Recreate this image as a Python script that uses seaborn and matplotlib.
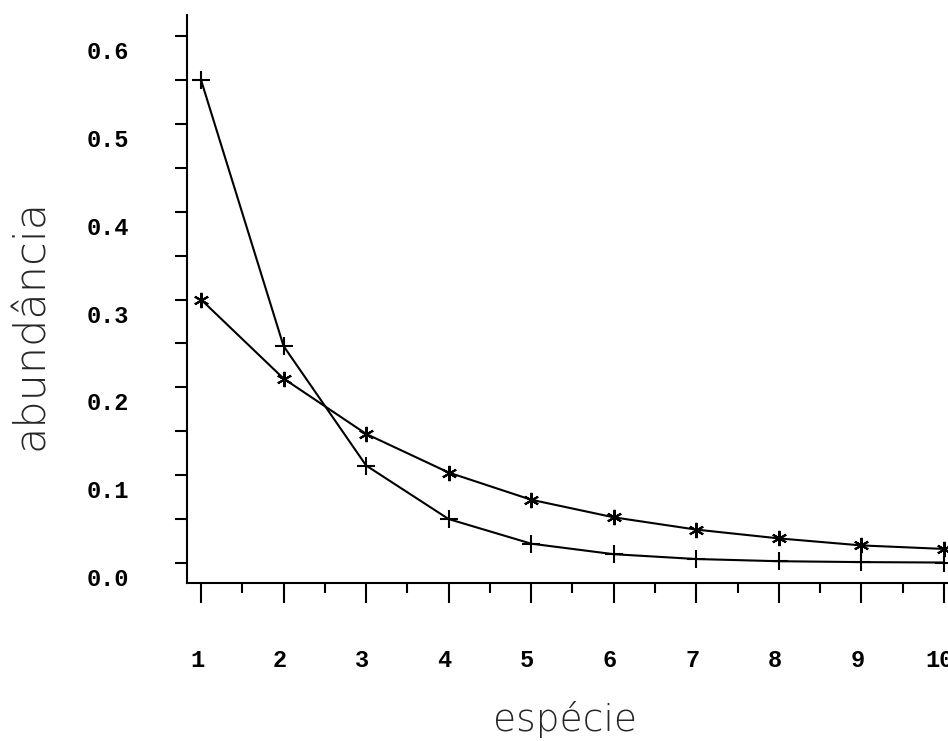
import matplotlib
matplotlib.use("Agg")
import matplotlib.pyplot as plt
import matplotlib.transforms as mtrans
from matplotlib.ticker import MultipleLocator
import seaborn as sns
import pandas as pd

# abundancia relativa por especie
especie = [1, 2, 3, 4, 5, 6, 7, 8, 9, 10]
serie_mais = [0.55, 0.247, 0.111, 0.050, 0.022, 0.010, 0.0045, 0.002, 0.001, 0.0005]
serie_ast = [0.300, 0.210, 0.147, 0.103, 0.072, 0.052, 0.038, 0.028, 0.020, 0.016]

sns.set_style("ticks")
plt.rcParams["font.family"] = ["DejaVu Sans"]

df = pd.DataFrame({"especie": especie, "mais": serie_mais, "ast": serie_ast})

fig = plt.figure(figsize=(9.48, 7.41), dpi=100)
ax = fig.add_axes([187 / 948, 158 / 741, 761 / 948, 568 / 741])

sns.lineplot(data=df, x="especie", y="mais", ax=ax, color="black", lw=1.5,
             marker="+", markersize=13, markeredgewidth=1.5, markeredgecolor="black")
sns.lineplot(data=df, x="especie", y="ast", ax=ax, color="black", lw=1.5,
             marker=(6, 2, 0), markersize=11, markeredgewidth=1.5, markeredgecolor="black")

ax.set_xlim(0.83, 10.05)
ax.set_ylim(-0.0228, 0.624)
sns.despine(ax=ax)
for s in ["left", "bottom"]:
    ax.spines[s].set_linewidth(1.5)
    ax.spines[s].set_color("black")

ax.set_xticks(especie)
ax.xaxis.set_minor_locator(MultipleLocator(0.5))
ax.set_yticks([0.0, 0.1, 0.2, 0.3, 0.4, 0.5, 0.6])
ax.set_yticklabels(["0.0", "0.1", "0.2", "0.3", "0.4", "0.5", "0.6"])
ax.yaxis.set_minor_locator(MultipleLocator(0.05))

ax.tick_params(axis="x", which="major", direction="out", length=14.5, width=1.5,
               pad=33, colors="black")
ax.tick_params(axis="x", which="minor", direction="out", length=7, width=1.5, colors="black")
ax.tick_params(axis="y", which="both", direction="out", length=8.6, width=1.5,
               pad=33, colors="black")

for lab in ax.get_xticklabels() + ax.get_yticklabels():
    lab.set_fontfamily("Liberation Mono")
    lab.set_fontweight("bold")
    lab.set_fontsize(17)

off = mtrans.ScaledTranslation(0, -14 / 100, fig.dpi_scale_trans)
for lab in ax.get_yticklabels():
    lab.set_transform(lab.get_transform() + off)
xoff = mtrans.ScaledTranslation(-4 / 100, 0, fig.dpi_scale_trans)
for lab in ax.get_xticklabels():
    lab.set_transform(lab.get_transform() + xoff)

ax.set_xlabel("espécie", fontsize=27, fontweight="light")
ax.set_ylabel("abundância", fontsize=31, fontweight="light")
ax.xaxis.set_label_coords(0.497, -0.24)
ax.yaxis.set_label_coords(-0.205, 0.455)
ax.xaxis.label.set_va("center")
ax.yaxis.label.set_va("center")

fig.savefig("out.png", dpi=100)
